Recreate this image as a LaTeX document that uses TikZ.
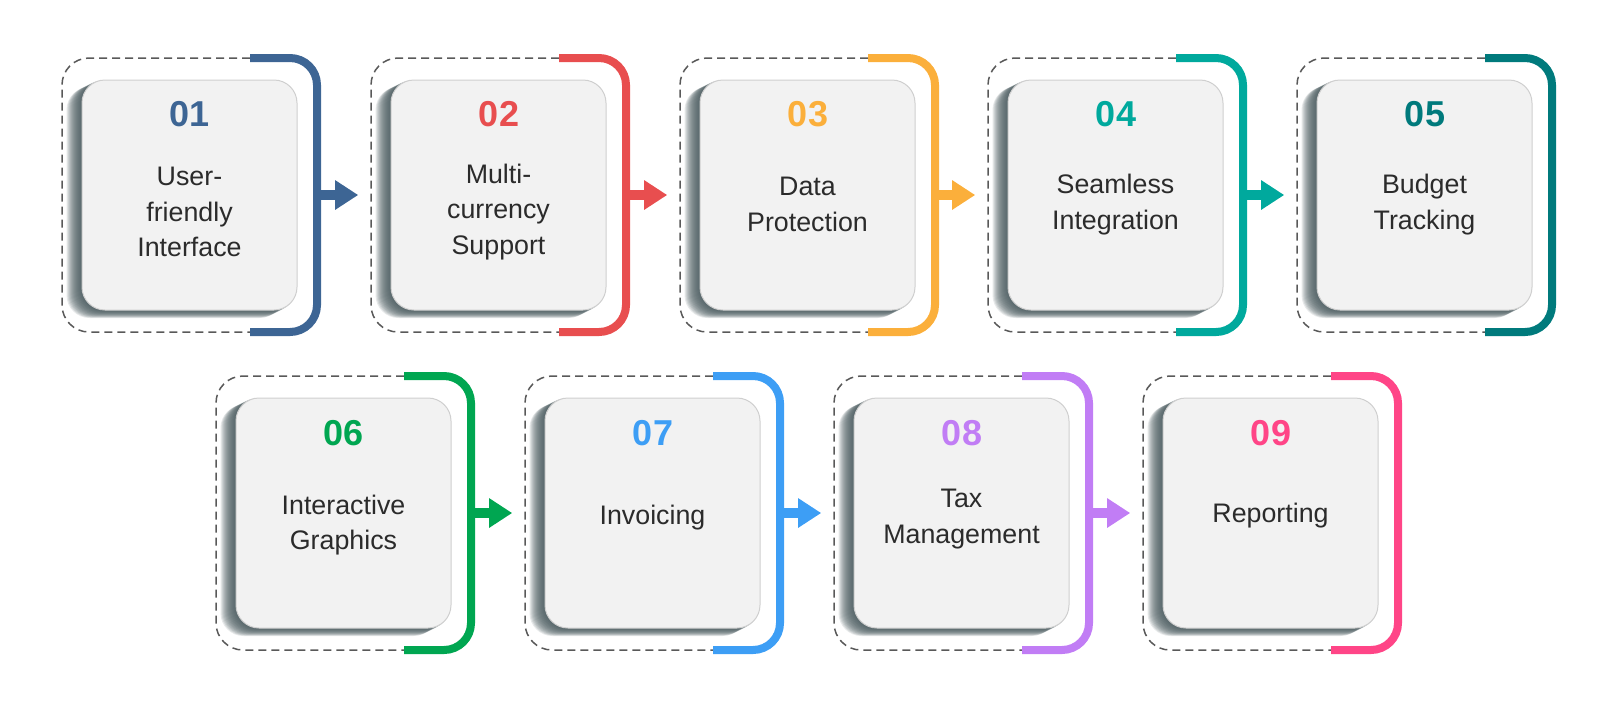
\documentclass[tikz,border=0pt]{standalone}
\usepackage{fontspec}
\setmainfont{Liberation Sans}
\usepackage{xcolor}
\usepackage{tikz}
\usetikzlibrary{arrows.meta,calc,positioning}
\definecolor{Slate}{HTML}{3D6594}
\definecolor{Scarlet}{HTML}{E84E4F}
\definecolor{Amber}{HTML}{FBAF3B}
\definecolor{Teal}{HTML}{00A99D}
\definecolor{Petrol}{HTML}{007A7C}
\definecolor{Jade}{HTML}{00A651}
\definecolor{Azure}{HTML}{3D9EF5}
\definecolor{Lilac}{HTML}{C17DF5}
\definecolor{Rose}{HTML}{FF4587}
\definecolor{Paper}{HTML}{F2F2F2}
\definecolor{Ink}{HTML}{2B2B2B}
\definecolor{Umbra}{HTML}{46575B}
\pgfdeclarelayer{background}
\pgfsetlayers{background,main}

\begin{document}
\begin{tikzpicture}[x=0.5pt,y=-0.5pt,
  card/.style={draw=black!19,line width=0.5pt,fill=Paper,rounded corners=11.5pt,
               minimum width=107.5pt,minimum height=115pt,inner sep=0pt},
  num/.style={text=#1,font=\fontsize{18}{21}\selectfont\bfseries},
  txt/.style={text=Ink,align=center,font=\fontsize{13.4}{17.75}\selectfont},
  frame/.style={draw=black!65,line width=0.75pt,dash pattern=on 4pt off 2.5pt,rounded corners=13.5pt},
  bracket/.style={draw=#1,line width=4pt,rounded corners=13.5pt},
  flow/.style={draw=#1,line width=5pt,-{Triangle[length=11.5pt,width=14pt]}}]
  \useasboundingbox (0,0) rectangle (1600,708);

  % first row
  \node[card] (c1) at (189.5,195) {};
  \node[num=Slate] (n1) at (190,114) {01};
  \node[txt] (t1) at (189.5,212) {User-\\friendly\\Interface};
  \draw[frame] (250,58) -- (62,58) -- (62,332) -- (250,332);
  \draw[bracket=Slate] (250,58) -- (317,58) -- (317,332) -- (250,332);
  \coordinate (f1) at (62,195); \coordinate (b1) at (317,195);

  \node[card] (c2) at (498.5,195) {};
  \node[num=Scarlet] (n2) at (499,114) {02};
  \node[txt] (t2) at (498.5,212) {Multi-\\currency\\Support};
  \draw[frame] (559,58) -- (371,58) -- (371,332) -- (559,332);
  \draw[bracket=Scarlet] (559,58) -- (626,58) -- (626,332) -- (559,332);
  \coordinate (f2) at (371,195); \coordinate (b2) at (626,195);

  \node[card] (c3) at (807.5,195) {};
  \node[num=Amber] (n3) at (808,114) {03};
  \node[txt] (t3) at (807.5,204.5) {Data\\Protection};
  \draw[frame] (868,58) -- (680,58) -- (680,332) -- (868,332);
  \draw[bracket=Amber] (868,58) -- (935,58) -- (935,332) -- (868,332);
  \coordinate (f3) at (680,195); \coordinate (b3) at (935,195);

  \node[card] (c4) at (1115.5,195) {};
  \node[num=Teal] (n4) at (1116,114) {04};
  \node[txt] (t4) at (1115.5,204.5) {Seamless\\Integration};
  \draw[frame] (1176,58) -- (988,58) -- (988,332) -- (1176,332);
  \draw[bracket=Teal] (1176,58) -- (1243,58) -- (1243,332) -- (1176,332);
  \coordinate (f4) at (988,195); \coordinate (b4) at (1243,195);

  \node[card] (c5) at (1424.5,195) {};
  \node[num=Petrol] (n5) at (1425,114) {05};
  \node[txt] (t5) at (1424.5,204.5) {Budget\\Tracking};
  \draw[frame] (1485,58) -- (1297,58) -- (1297,332) -- (1485,332);
  \draw[bracket=Petrol] (1485,58) -- (1552,58) -- (1552,332) -- (1485,332);
  \coordinate (f5) at (1297,195);

  % second row
  \node[card] (c6) at (343.5,513) {};
  \node[num=Jade] (n6) at (344,433) {06};
  \node[txt] (t6) at (343.5,525) {Interactive\\Graphics};
  \draw[frame] (404,376) -- (216,376) -- (216,650) -- (404,650);
  \draw[bracket=Jade] (404,376) -- (471,376) -- (471,650) -- (404,650);
  \coordinate (f6) at (216,513); \coordinate (b6) at (471,513);

  \node[card] (c7) at (652.5,513) {};
  \node[num=Azure] (n7) at (653,433) {07};
  \node[txt] (t7) at (652.5,518) {Invoicing};
  \draw[frame] (713,376) -- (525,376) -- (525,650) -- (713,650);
  \draw[bracket=Azure] (713,376) -- (780,376) -- (780,650) -- (713,650);
  \coordinate (f7) at (525,513); \coordinate (b7) at (780,513);

  \node[card] (c8) at (961.5,513) {};
  \node[num=Lilac] (n8) at (962,433) {08};
  \node[txt] (t8) at (961.5,519) {Tax\\Management};
  \draw[frame] (1022,376) -- (834,376) -- (834,650) -- (1022,650);
  \draw[bracket=Lilac] (1022,376) -- (1089,376) -- (1089,650) -- (1022,650);
  \coordinate (f8) at (834,513); \coordinate (b8) at (1089,513);

  \node[card] (c9) at (1270.5,513) {};
  \node[num=Rose] (n9) at (1271,433) {09};
  \node[txt] (t9) at (1270.5,516) {Reporting};
  \draw[frame] (1331,376) -- (1143,376) -- (1143,650) -- (1331,650);
  \draw[bracket=Rose] (1331,376) -- (1398,376) -- (1398,650) -- (1331,650);
  \coordinate (f9) at (1143,513);

  % long shadows under the cards
  \begin{pgfonlayer}{background}
    \foreach \c in {c1,c2,c3,c4,c5,c6,c7,c8,c9}
      \foreach \s in {1,...,15}
        \fill[Umbra,opacity=0.13,rounded corners=11.5pt]
          ($(\c.south west)+(-\s,0.5*\s)$) rectangle ($(\c.north east)+(-\s,0.5*\s)$);
  \end{pgfonlayer}

  % arrows
  \draw[flow=Slate] (b1) -- ([xshift=-6.4pt]f2);
  \draw[flow=Scarlet] (b2) -- ([xshift=-6.4pt]f3);
  \draw[flow=Amber] (b3) -- ([xshift=-6.4pt]f4);
  \draw[flow=Teal] (b4) -- ([xshift=-6.4pt]f5);
  \draw[flow=Jade] (b6) -- ([xshift=-6.4pt]f7);
  \draw[flow=Azure] (b7) -- ([xshift=-6.4pt]f8);
  \draw[flow=Lilac] (b8) -- ([xshift=-6.4pt]f9);
\end{tikzpicture}
\end{document}
